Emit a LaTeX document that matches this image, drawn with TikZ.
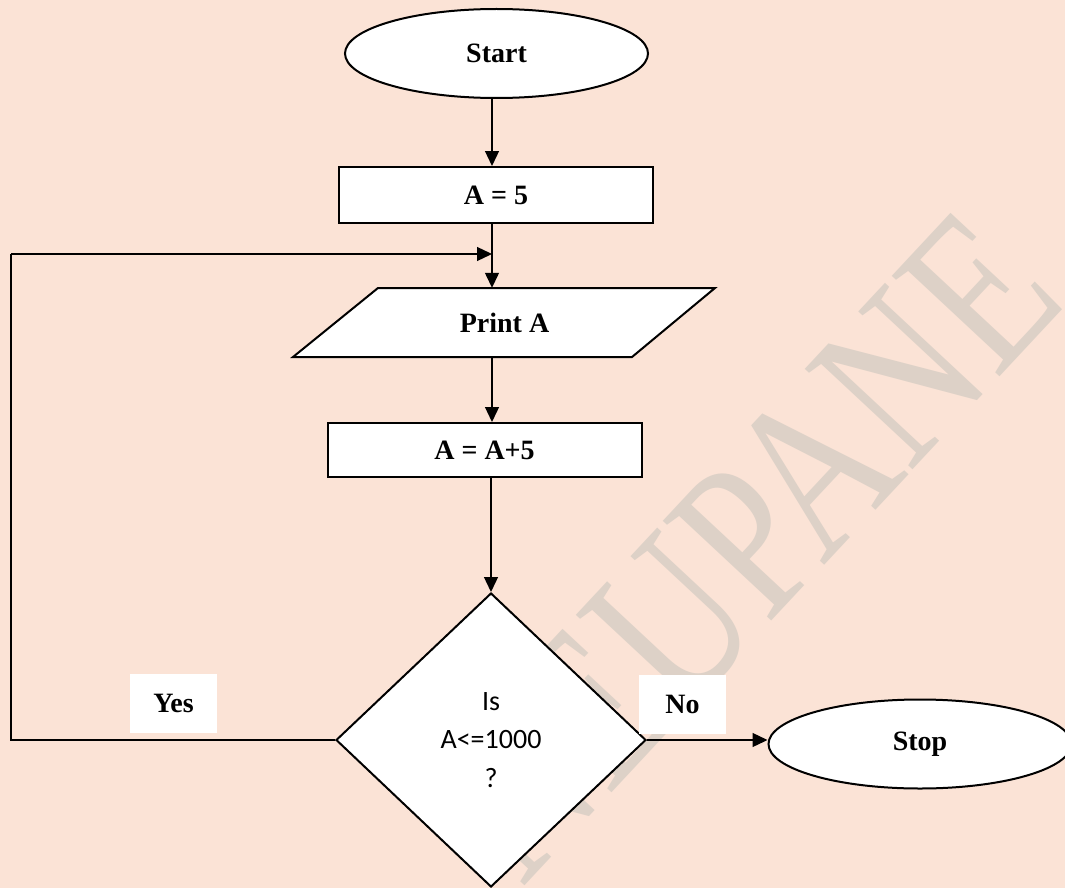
\documentclass[tikz,border=0pt]{standalone}
\usepackage{fontspec}
\setmainfont{Liberation Serif}
\newfontfamily\calib{Carlito}
\usetikzlibrary{shapes.geometric,arrows.meta}
\definecolor{bgc}{RGB}{251,227,214}
\definecolor{wmc}{RGB}{221,209,199}
\begin{document}
\begin{tikzpicture}[x=1pt,y=-1pt,
  shp/.style={draw=black, line width=2pt, fill=white, inner sep=0pt},
  bold28/.style={font=\fontsize{28}{30}\selectfont\bfseries},
  term/.style={shp, ellipse, minimum width=303pt, minimum height=89pt, bold28},
  proc/.style={shp, rectangle, minimum width=314pt, minimum height=56pt, bold28},
  arr/.style={line width=1.3pt, -{Triangle[length=15pt,width=14pt]}},
  conn/.style={line width=1.3pt},
  lbl/.style={fill=white, minimum width=87pt, minimum height=59pt, inner sep=0pt, bold28}]
\fill[bgc] (0,0) rectangle (1065,888);
\useasboundingbox (0,0) rectangle (1065,888);
% watermark
\node[rotate=47, xscale=0.78, inner sep=0pt, text=wmc, font=\fontsize{225}{225}\selectfont] (wm) at (742,546) {NEUPANE};
% nodes
\node[term] (start) at (496.5,53.5) {Start};
\node[proc] (a5) at (496,195) {A = 5};
\fill[white] (378,288) -- (715,288) -- (632,357) -- (293,357) -- cycle;
\draw[line width=2pt, line join=miter] (378,288) -- (715,288) -- (632,357) -- (293,357) -- cycle;
\node[minimum width=339pt, minimum height=69pt, inner sep=0pt, bold28] (print) at (504.5,322.5) {Print A};
\node[proc, minimum height=54pt] (aa5) at (484.5,450) {A = A+5};
\node[shp, diamond, minimum width=310pt, minimum height=294pt, align=center,
      font=\calib\fontsize{28}{38.5}\selectfont] (dec) at (491,740) {Is\\A<=1000\\?};
\node[term] (stop) at (920,744) {Stop};
\node[lbl] (yes) at (173.5,703.5) {Yes};
\node[lbl] (no) at (682.5,704) {No};
% helper coordinates
\coordinate (spine) at (492,0);
\coordinate (lft) at (11,254);
% connectors
\draw[arr] (start.south -| spine) -- (a5.north -| spine);
\draw[arr] (a5.south -| spine) -- (print.north -| spine);
\draw[conn] (dec.west) -| (lft);
\draw[arr] (lft) -- (lft -| spine);
\draw[arr] (print.south -| spine) -- (aa5.north -| spine);
\draw[arr] (aa5.south -| dec.north) -- (dec.north);
\draw[arr] (dec.east) -- (dec.east -| stop.west);
\end{tikzpicture}
\end{document}
